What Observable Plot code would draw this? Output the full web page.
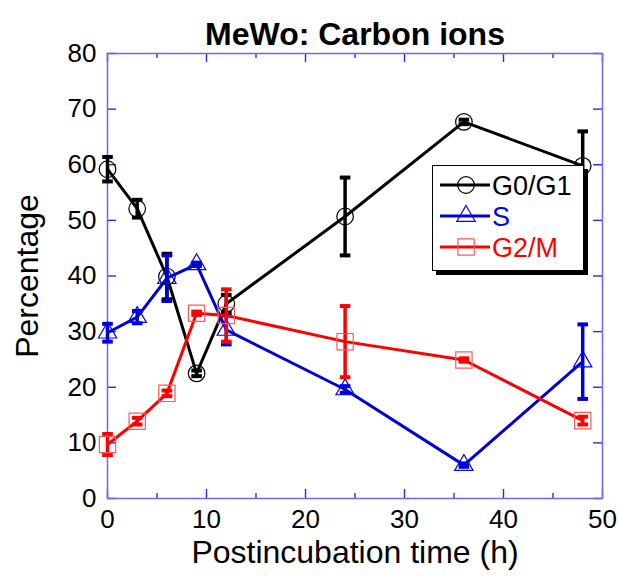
<!DOCTYPE html>
<html>
<head>
<meta charset="utf-8">
<script src="https://cdn.jsdelivr.net/npm/d3@7"></script>
<script src="https://cdn.jsdelivr.net/npm/@observablehq/plot@0.6"></script>
<style>
  html, body { margin: 0; padding: 0; background: white; }
  #wrap { position: relative; width: 620px; height: 579px; font-family: "Liberation Sans", Arial, sans-serif; }
  #legend { position: absolute; left: 432px; top: 165px; width: 152px; height: 106px; box-sizing: border-box;
    border: 1.5px solid black; background: white; box-shadow: 4px 4px 0 black; }
</style>
</head>
<body>
<div id="wrap"><div id="legend"></div></div>
<script>
const title = "MeWo: Carbon ions";
const xLabel = "Postincubation time (h)";
const yLabel = "Percentage";

const times = [0, 3, 6, 9, 12, 24, 36, 48];
const seriesNames = ["G0/G1", "S", "G2/M"];
const g0g1 = [59.2, 52.1, 39.9, 22.5, 35.0, 50.7, 67.7, 59.8];
const g0g1Err = [2.2, 1.6, 4.1, 0.5, 1.6, 7.0, 0.4, 6.2];
const sPhase = [29.8, 32.6, 39.6, 42.1, 30.3, 19.6, 6.0, 24.6];
const sPhaseErr = [1.6, 1.1, 4.1, 0.3, 2.6, 0.6, 0.3, 6.7];
const g2m = [9.7, 13.9, 18.9, 33.3, 32.9, 28.2, 24.9, 14.0];
const g2mErr = [1.9, 0.6, 0.5, 0.3, 4.7, 6.4, 0.3, 0.7];

const xMajor = [0, 10, 20, 30, 40, 50];
const xMinor = [5, 15, 25, 35, 45];
const yMajor = [0, 10, 20, 30, 40, 50, 60, 70, 80];

const lineColors = ["#000000", "#0000d4", "#ff0000"];
const markColors = ["#000000", "#0000ff", "#ff5a5a"];
const textColors = ["#000000", "#0000ff", "#ff0000"];
const symbols = ["circle", "triangle", "square"];
const symbolR = [8.3, 6.8, 9.2];
const values = [g0g1, sPhase, g2m];
const errors = [g0g1Err, sPhaseErr, g2mErr];

const W = 620, H = 579, mL = 107, mR = 18, mT = 53, mB = 81;
const fw = W - mL - mR, fh = H - mT - mB;

const capSymbol = {
  draw(ctx, size) {
    const r = Math.sqrt(size / Math.PI);
    ctx.moveTo(-r, 0); ctx.lineTo(r, 0);
  }
};

const marks = [];
const tickColor = "#2a2ae6";
marks.push(Plot.tickX(xMajor, {x: d => d, insetTop: fh - 9, stroke: tickColor, strokeWidth: 1.4}));
marks.push(Plot.tickX(xMajor, {x: d => d, insetBottom: fh - 9, stroke: tickColor, strokeWidth: 1.4}));
marks.push(Plot.tickX(xMinor, {x: d => d, insetTop: fh - 5, stroke: tickColor, strokeWidth: 1.4}));
marks.push(Plot.tickX(xMinor, {x: d => d, insetBottom: fh - 5, stroke: tickColor, strokeWidth: 1.4}));
marks.push(Plot.tickY(yMajor, {y: d => d, insetRight: fw - 9, stroke: tickColor, strokeWidth: 1.4}));
marks.push(Plot.tickY(yMajor, {y: d => d, insetLeft: fw - 9, stroke: tickColor, strokeWidth: 1.4}));
marks.push(Plot.frame({stroke: "#6a6af0", strokeWidth: 1.5}));
marks.push(Plot.axisX(xMajor, {tickSize: 0, tickPadding: 11, fontSize: 26, label: null, fill: "black"}));
marks.push(Plot.axisY(yMajor, {tickSize: 0, tickPadding: 11, fontSize: 26, label: null, fill: "black"}));

seriesNames.forEach((name, i) => {
  const rows = times.map((t, j) => ({t, v: values[i][j], lo: values[i][j] - errors[i][j], hi: values[i][j] + errors[i][j]}));
  marks.push(Plot.line(rows, {x: "t", y: "v", stroke: lineColors[i], strokeWidth: 3}));
  marks.push(Plot.ruleX(rows, {x: "t", y1: "lo", y2: "hi", stroke: lineColors[i], strokeWidth: 3.5}));
  marks.push(Plot.dot(rows, {x: "t", y: "lo", symbol: capSymbol, r: 5.3, stroke: lineColors[i], strokeWidth: 4}));
  marks.push(Plot.dot(rows, {x: "t", y: "hi", symbol: capSymbol, r: 5.3, stroke: lineColors[i], strokeWidth: 4}));
  marks.push(Plot.dot(rows, {x: "t", y: "v", symbol: symbols[i], r: symbolR[i], stroke: markColors[i], strokeWidth: 1.2, fill: "none"}));
});

marks.push(Plot.text([title], {text: d => d, frameAnchor: "top", dy: -31, fontSize: 32, fontWeight: "bold", fill: "black"}));
marks.push(Plot.text([xLabel], {text: d => d, frameAnchor: "bottom", dy: 64, fontSize: 32, fill: "black"}));
marks.push(Plot.text([yLabel], {text: d => d, frameAnchor: "left", textAnchor: "middle", dx: -80, rotate: -90, fontSize: 32, fill: "black"}));

const chart = Plot.plot({
  width: W, height: H,
  marginLeft: mL, marginRight: mR, marginTop: mT, marginBottom: mB,
  x: {domain: [0, 50]},
  y: {domain: [0, 80]},
  style: {fontFamily: "'Liberation Sans', Arial, sans-serif", background: "white", overflow: "visible"},
  marks
});
document.getElementById("wrap").prepend(chart);

const leg = d3.select("#legend").append("svg").attr("width", 150).attr("height", 104).style("display", "block");
seriesNames.forEach((name, i) => {
  const y = 19 + i * 31;
  const g = leg.append("g").attr("transform", `translate(0,${y})`);
  g.append("line").attr("x1", 7).attr("x2", 57).attr("y1", 0).attr("y2", 0)
    .attr("stroke", lineColors[i]).attr("stroke-width", 3);
  const sym = d3.symbol(i === 0 ? d3.symbolCircle : i === 1 ? d3.symbolTriangle : d3.symbolSquare, Math.PI * symbolR[i] * symbolR[i]);
  g.append("path").attr("d", sym()).attr("transform", "translate(33,0)")
    .attr("fill", "none").attr("stroke", markColors[i]).attr("stroke-width", 1.2);
  g.append("text").attr("x", 59).attr("y", 0).attr("dy", "0.36em")
    .attr("font-size", 27).attr("font-family", "'Liberation Sans', Arial, sans-serif")
    .attr("fill", textColors[i]).text(name);
});
</script>
</body>
</html>
